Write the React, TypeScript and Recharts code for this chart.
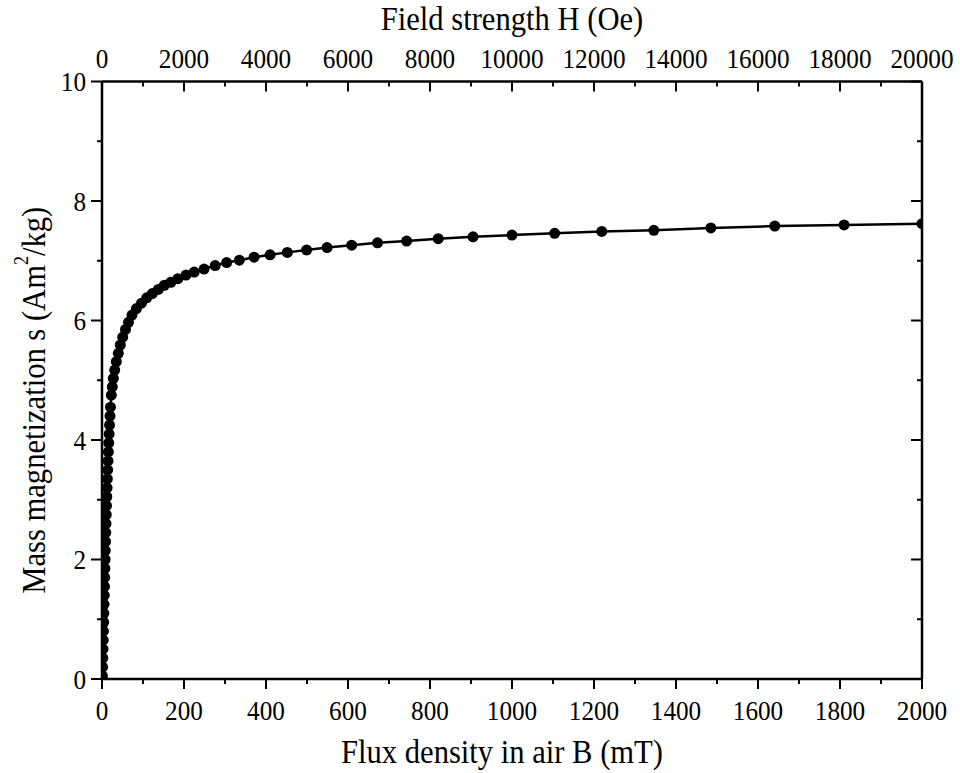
import { LineChart, Line, XAxis, YAxis } from "recharts";

// flux density in air B (mT)
const fluxB = [
  1, 1.5, 2, 2.5, 3, 3.5, 4, 4.5, 5, 5.5, 6, 6.5, 7, 7.5, 8, 8.6, 9.2, 9.8,
  10.4, 11, 11.7, 12.4, 13.1, 13.8, 14.6, 15.5, 16.4, 17.4, 18.4, 19.5, 20.7,
  22.7, 25.1, 27.6, 31, 34.9, 39.8, 44.6, 50.5, 57.3, 64.6, 73.2, 84, 96.3,
  109, 122.7, 137.3, 152, 168, 185, 205, 225, 249, 276, 304, 335, 371, 410,
  452, 499, 549, 609, 672, 743, 820, 905, 1000, 1104, 1219, 1346, 1485, 1641,
  1810, 2000,
];

// mass magnetization (Am2/kg)
const massM = [
  0.05, 0.2, 0.35, 0.5, 0.65, 0.8, 0.95, 1.1, 1.25, 1.4, 1.55, 1.7, 1.85, 2.0,
  2.15, 2.3, 2.45, 2.6, 2.75, 2.9, 3.05, 3.2, 3.35, 3.5, 3.65, 3.8, 3.95, 4.1,
  4.25, 4.4, 4.55, 4.75, 4.89, 5.03, 5.17, 5.31, 5.45, 5.59, 5.72, 5.85, 5.97,
  6.09, 6.2, 6.29, 6.38, 6.45, 6.52, 6.59, 6.64, 6.7, 6.76, 6.81, 6.86, 6.92,
  6.97, 7.01, 7.06, 7.1, 7.14, 7.18, 7.22, 7.26, 7.3, 7.33, 7.37, 7.4, 7.43,
  7.46, 7.49, 7.51, 7.55, 7.58, 7.6, 7.62,
];

const fluxTicks = [
  0, 100, 200, 300, 400, 500, 600, 700, 800, 900, 1000, 1100, 1200, 1300, 1400,
  1500, 1600, 1700, 1800, 1900, 2000,
];
const fieldTicks = [
  0, 1000, 2000, 3000, 4000, 5000, 6000, 7000, 8000, 9000, 10000, 11000, 12000,
  13000, 14000, 15000, 16000, 17000, 18000, 19000, 20000,
];
const magTicks = [0, 1, 2, 3, 4, 5, 6, 7, 8, 9, 10];

// 1 mT in air = 10 Oe
const data = fluxB.map((b, i) => ({ b, h: b * 10, m: massM[i] }));

const FONT = "'Liberation Serif', 'Times New Roman', serif";
const TICK_FONT = 28;
const TITLE_FONT = 34;
const SQUEEZE = 0.9;

// narrow serif text, like the original figure
const Txt = ({ x, y, anchor, size, children, dy }: any) => (
  <text
    transform={`translate(${x},${y}) scale(${SQUEEZE},1)`}
    dy={dy}
    textAnchor={anchor}
    fontFamily={FONT}
    fontSize={size}
    fill="#000"
  >
    {children}
  </text>
);

const BottomTick = (p: any) => {
  const major = p.payload.value % 200 === 0;
  return (
    <g>
      <line x1={p.x} y1={p.y} x2={p.x} y2={p.y + (major ? 10 : 5)} stroke="#000" strokeWidth={2} />
      {major && (
        <Txt x={p.x} y={p.y + 41} anchor="middle" size={TICK_FONT}>
          {p.payload.value}
        </Txt>
      )}
    </g>
  );
};

const TopTick = (p: any) => {
  const major = p.payload.value % 2000 === 0;
  return (
    <g>
      <line x1={p.x} y1={p.y} x2={p.x} y2={p.y + (major ? 10 : 5)} stroke="#000" strokeWidth={2} />
      {major && (
        <Txt x={p.x} y={p.y - 14} anchor="middle" size={TICK_FONT}>
          {p.payload.value}
        </Txt>
      )}
    </g>
  );
};

const LeftTick = (p: any) => {
  const major = p.payload.value % 2 === 0;
  return (
    <g>
      <line x1={p.x} y1={p.y} x2={p.x - (major ? 11 : 5)} y2={p.y} stroke="#000" strokeWidth={2} />
      {major && (
        <Txt x={p.x - 16} y={p.y} dy="0.35em" anchor="end" size={TICK_FONT}>
          {p.payload.value}
        </Txt>
      )}
    </g>
  );
};

const RightTick = (p: any) => {
  const major = p.payload.value % 2 === 0;
  return (
    <line x1={p.x} y1={p.y} x2={p.x - (major ? 11 : 5)} y2={p.y} stroke="#000" strokeWidth={2} />
  );
};

const axisLine = { stroke: "#000", strokeWidth: 2.5 };

export default function App() {
  return (
    <div style={{ position: "absolute", left: 0, top: 0 }}>
      <LineChart
        width={960}
        height={773}
        data={data}
        margin={{ top: 41.5, right: 18, bottom: 54, left: 42 }}
      >
        <XAxis
          xAxisId="b"
          dataKey="b"
          type="number"
          domain={[0, 2000]}
          ticks={fluxTicks}
          interval={0}
          tickSize={0}
          tickMargin={0}
          tick={(p: any) => <BottomTick {...p} />}
          axisLine={axisLine}
          height={40}
          allowDataOverflow
          label={{
            content: (lp: any) => (
              <Txt
                x={lp.viewBox.x + lp.viewBox.width / 2 - 10}
                y={lp.viewBox.y + 84}
                anchor="middle"
                size={TITLE_FONT}
              >
                Flux density in air B (mT)
              </Txt>
            ),
          }}
        />
        <XAxis
          xAxisId="h"
          dataKey="h"
          orientation="top"
          type="number"
          domain={[0, 20000]}
          ticks={fieldTicks}
          interval={0}
          tickSize={0}
          tickMargin={0}
          tick={(p: any) => <TopTick {...p} />}
          axisLine={axisLine}
          height={40}
          allowDataOverflow
          label={{
            content: (lp: any) => (
              <Txt
                x={lp.viewBox.x + lp.viewBox.width / 2}
                y={lp.viewBox.y - 12}
                anchor="middle"
                size={TITLE_FONT}
              >
                Field strength H (Oe)
              </Txt>
            ),
          }}
        />
        <YAxis
          yAxisId="m"
          type="number"
          domain={[0, 10]}
          ticks={magTicks}
          interval={0}
          tickSize={0}
          tickMargin={0}
          tick={(p: any) => <LeftTick {...p} />}
          axisLine={axisLine}
          width={60}
          allowDataOverflow
          label={{
            content: (lp: any) => {
              const cy = lp.viewBox.y + lp.viewBox.height / 2 + 20;
              return (
                <text
                  transform={`translate(33,${cy}) rotate(-90) scale(${SQUEEZE},1)`}
                  textAnchor="middle"
                  dominantBaseline="central"
                  fontFamily={FONT}
                  fontSize={TITLE_FONT}
                  fill="#000"
                >
                  <tspan>Mass magnetization s (Am</tspan>
                  <tspan dy={-12} fontSize={20}>2</tspan>
                  <tspan dy={12}>/kg)</tspan>
                </text>
              );
            },
          }}
        />
        <YAxis
          yAxisId="r"
          orientation="right"
          type="number"
          domain={[0, 10]}
          ticks={magTicks}
          interval={0}
          tickSize={0}
          tickMargin={0}
          tick={(p: any) => <RightTick {...p} />}
          axisLine={axisLine}
          width={20}
          allowDataOverflow
        />
        <Line
          xAxisId="h"
          yAxisId="r"
          dataKey="m"
          stroke="none"
          dot={false}
          activeDot={false}
          isAnimationActive={false}
        />
        <Line
          xAxisId="b"
          yAxisId="m"
          dataKey="m"
          stroke="#000"
          strokeWidth={2.5}
          dot={{ r: 5.5, fill: "#000", stroke: "#000", strokeWidth: 0 }}
          activeDot={false}
          isAnimationActive={false}
        />
      </LineChart>
    </div>
  );
}
